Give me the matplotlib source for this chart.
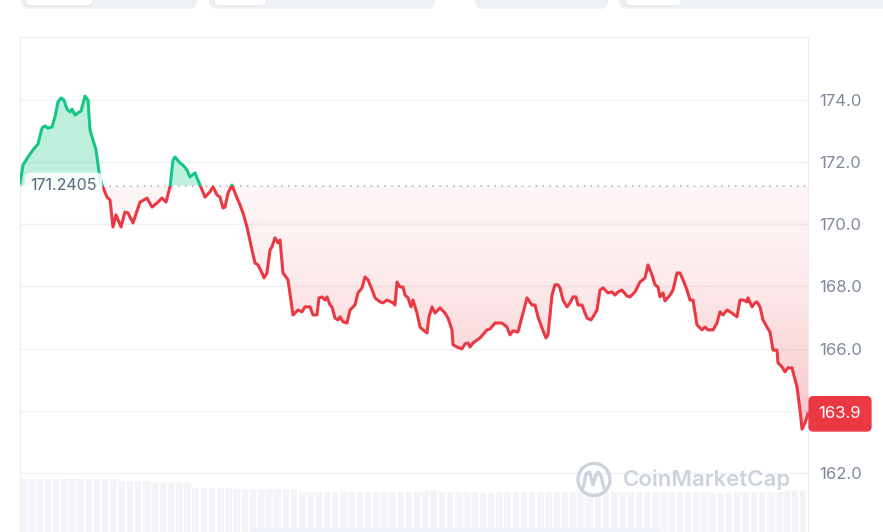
import numpy as np
import matplotlib.pyplot as plt
from matplotlib.patches import Rectangle, FancyBboxPatch, Circle
from matplotlib.path import Path
from matplotlib.colors import to_rgb
import matplotlib.transforms as mtransforms

plt.rcParams['font.family'] = ['Inter', 'DejaVu Sans']

# time index (0..788 over the day) and price
t = [0, 3, 8, 13, 18, 22, 25, 28, 32, 35, 38, 41, 44, 47, 50, 52, 55, 58, 61, 65,
     68, 70, 73, 76, 79, 82, 87, 90, 93, 96, 101, 105, 108, 113, 120, 124, 127, 132, 137, 142,
     146, 150, 153, 155, 160, 163, 167, 170, 175, 180, 185, 190, 193, 197, 200, 203, 205, 208, 212, 215,
     220, 223, 227, 232, 235, 238, 242, 244, 247, 250, 252, 255, 258, 260, 263, 268, 273, 278, 282, 285,
     290, 293, 297, 299, 302, 305, 307, 310, 312, 315, 318, 320, 323, 327, 330, 335, 338, 342, 345, 348,
     353, 355, 360, 363, 367, 373, 375, 377, 380, 383, 385, 388, 391, 393, 397, 400, 403, 407, 409, 412,
     415, 420, 425, 428, 432, 433, 437, 442, 445, 448, 450, 453, 460, 467, 470, 475, 478, 482, 487, 490,
     493, 498, 502, 507, 512, 515, 518, 522, 526, 528, 532, 535, 538, 540, 543, 547, 550, 553, 556, 558,
     562, 565, 567, 571, 573, 577, 580, 583, 588, 592, 595, 598, 602, 607, 610, 615, 620, 625, 628, 632,
     635, 638, 640, 643, 645, 650, 653, 657, 660, 663, 667, 670, 673, 677, 682, 685, 688, 693, 697, 700,
     703, 707, 712, 717, 720, 723, 727, 728, 732, 735, 737, 740, 743, 747, 750, 753, 757, 758, 762, 765,
     768, 772, 773, 777, 780, 782, 785, 788]

price = [171.32, 171.90, 172.16, 172.39, 172.58, 173.09, 173.16, 173.09, 173.13, 173.45,
         173.93, 174.06, 173.99, 173.70, 173.61, 173.70, 173.51, 173.58, 173.64, 174.12,
         173.99, 173.03, 172.71, 172.39, 171.68, 171.26, 170.87, 170.78, 169.91, 170.30,
         169.91, 170.39, 170.36, 170.04, 170.71, 170.78, 170.84, 170.55, 170.68, 170.84,
         170.71, 171.20, 172.06, 172.16, 171.97, 171.90, 171.74, 171.52, 171.65, 171.26,
         170.87, 171.04, 171.20, 170.94, 170.87, 170.52, 170.55, 171.00, 171.26, 171.00,
         170.62, 170.36, 169.91, 169.17, 168.75, 168.69, 168.43, 168.27, 168.43, 169.17,
         169.27, 169.56, 169.40, 169.49, 168.43, 168.21, 167.08, 167.24, 167.18, 167.34,
         167.34, 167.08, 167.08, 167.63, 167.66, 167.56, 167.66, 167.40, 167.34, 166.98,
         166.92, 167.02, 166.86, 166.82, 167.24, 167.40, 167.79, 167.95, 168.30, 168.21,
         167.82, 167.63, 167.50, 167.47, 167.56, 167.47, 167.40, 168.14, 167.98, 167.98,
         167.72, 167.63, 167.34, 167.56, 167.14, 166.69, 166.60, 166.50, 167.02, 167.34,
         167.14, 167.31, 167.14, 166.98, 166.60, 166.12, 166.05, 165.99, 166.15, 166.18,
         166.05, 166.18, 166.34, 166.60, 166.63, 166.82, 166.82, 166.82, 166.69, 166.44,
         166.57, 166.53, 167.02, 167.63, 167.40, 167.40, 167.02, 166.66, 166.34, 166.44,
         167.72, 168.05, 168.05, 167.95, 167.56, 167.34, 167.47, 167.66, 167.66, 167.40,
         167.40, 167.14, 166.98, 166.92, 167.02, 167.24, 167.88, 167.95, 167.79, 167.82,
         167.72, 167.82, 167.88, 167.69, 167.66, 167.82, 168.14, 168.27, 168.69, 168.37,
         168.05, 167.98, 167.66, 167.79, 167.53, 167.72, 167.88, 168.43, 168.43, 168.21,
         167.88, 167.56, 167.56, 166.76, 166.60, 166.69, 166.60, 166.60, 166.82, 167.18,
         167.08, 167.24, 167.14, 167.02, 167.56, 167.56, 167.50, 167.63, 167.34, 167.47,
         167.50, 167.34, 166.92, 166.69, 166.53, 165.95, 165.95, 165.54, 165.41, 165.25,
         165.38, 165.38, 165.25, 164.77, 164.03, 163.41, 163.61, 163.90]

open_price = 171.2405
last_price = 163.9
yticks = [162, 164, 166, 168, 170, 172, 174]

# volume buckets (millions)
volume = [5.3, 5.3, 5.3, 5.3, 5.3, 5.3, 5.4, 5.3, 5.3, 5.3, 5.3, 5.3,
          5.1, 5.1, 5.1, 5.1, 4.9, 4.9, 4.9, 4.9, 4.9,
          4.4, 4.4, 4.4, 4.4, 4.4, 4.3, 4.3, 4.3, 4.3, 4.3, 4.3, 4.3, 4.3,
          4.0, 4.0, 4.0, 4.0, 4.0, 4.1, 4.0, 4.0, 4.0, 4.0, 4.0, 4.0, 4.0, 4.0, 4.0, 4.1, 4.1, 4.0, 4.0, 4.0,
          4.0, 4.0, 3.9, 3.9, 4.0, 4.0, 4.0, 4.0, 4.0, 4.0,
          4.0, 4.0, 4.0, 4.0, 4.0, 4.0, 4.0, 4.0, 4.0, 4.0,
          4.0, 4.0, 4.0, 4.0, 4.0, 4.0, 4.0, 4.0, 4.0, 4.0,
          3.9, 3.9, 3.9, 4.0, 4.0, 4.0, 4.0, 4.0, 4.0, 4.1, 4.2, 4.2]

green = '#16c784'
red = '#ea3943'

tt = np.array(t, dtype=float)
p = np.array(price)

fig = plt.figure(figsize=(8.83, 5.32), dpi=100)
rect = [20 / 883, 0, 788 / 883, 495 / 532]

# volume layer
axv = fig.add_axes(rect)
step = 788 / len(volume)
axv.bar(np.arange(len(volume)) * step, volume, width=step * 0.8, align='edge',
        color='#f3f4f7', lw=0)
axv.set_xlim(0, 788)
axv.set_ylim(0, 49.5)
axv.axis('off')

ax = fig.add_axes(rect)
ax.patch.set_visible(False)

# fills
ax.fill_between(tt, p, open_price, where=p >= open_price, interpolate=True,
                color=green, alpha=0.28, lw=0, zorder=1)
rfill = ax.fill_between(tt, p, open_price, where=p <= open_price, interpolate=True,
                        color='none', lw=0)
rpath = Path.make_compound_path(*rfill.get_paths())
f = np.linspace(0, 1, 256)
img = np.zeros((256, 1, 4))
img[..., :3] = to_rgb(red)
img[:, 0, 3] = 0.05 + 0.26 * f ** 1.5
im = ax.imshow(img, extent=[0, 788, 163.3, open_price], origin='upper',
               aspect='auto', zorder=1)
im.set_clip_path(rpath, transform=ax.transData)

# price line, green above open, red below
lg, = ax.plot(tt, p, color=green, lw=2.2, zorder=3)
lg.set_clip_path(Rectangle((0, open_price), 800, 20, transform=ax.transData))
lr, = ax.plot(tt, p, color=red, lw=2.2, zorder=3)
lr.set_clip_path(Rectangle((0, 150), 800, open_price - 150, transform=ax.transData))

ax.axhline(open_price, color='#a6acbd', lw=1.1, ls=(0, (1, 3.5)), zorder=2)

ax.set_xlim(0, 788)
ax.set_ylim(160.10, 176.02)
ax.set_yticks(yticks)
ax.set_yticklabels([f'{v:.1f}' for v in yticks])
ax.set_xticks([])
ax.yaxis.tick_right()
ax.tick_params(axis='y', length=0, pad=8, labelsize=12, labelcolor='#808a9d')
ax.grid(axis='y', color='#eff1f4', lw=1)
ax.set_axisbelow(True)
for s in ['top', 'left', 'right']:
    ax.spines[s].set_color('#eceef2')
ax.spines['bottom'].set_visible(False)

bt = mtransforms.blended_transform_factory(ax.transAxes, ax.transData)
ax.text(0.013, open_price, '171.2405', transform=bt, ha='left', va='center',
        fontsize=11.5, color='#58667e', zorder=5,
        bbox=dict(boxstyle='round,pad=0.35', fc='white', ec='none', alpha=0.85))
ax.text((840 - 20) / 788, last_price, '163.9', transform=bt, ha='center', va='center',
        fontsize=12, color='white', zorder=6, clip_on=False,
        bbox=dict(boxstyle='round,pad=0.62,rounding_size=0.3', fc=red, ec='none'))

# watermark
wm = '#cdd3dd'
fig.text(623 / 883, 1 - 480 / 532, 'CoinMarketCap', fontsize=16, fontweight='semibold',
         color=wm, ha='left', va='center')
fig.add_artist(Circle((5.94, 0.525), 0.16, fill=False, ec=wm, lw=2.4,
                      transform=fig.dpi_scale_trans))
wave_x = [5.83, 5.86, 5.895, 5.93, 5.955, 5.98, 6.01, 6.04]
wave_y = [0.44, 0.58, 0.60, 0.47, 0.56, 0.60, 0.56, 0.44]
fig.add_artist(plt.Line2D(wave_x, wave_y, color=wm, lw=2.4, transform=fig.dpi_scale_trans,
                          solid_joinstyle='round', solid_capstyle='round'))

# tab buttons cut at the top
tabs = [(0.21, 1.76), (2.09, 2.26), (4.75, 1.33), (6.19, 2.8)]
for x0, w in tabs:
    fig.add_artist(FancyBboxPatch((x0, 5.23), w, 0.3, boxstyle='round,pad=0,rounding_size=0.08',
                                  fc='#eff2f5', ec='none', transform=fig.dpi_scale_trans))
inner = [(0.25, 0.68), (2.14, 0.53), (6.25, 0.57)]
for x0, w in inner:
    fig.add_artist(FancyBboxPatch((x0, 5.26), w, 0.3, boxstyle='round,pad=0,rounding_size=0.06',
                                  fc='white', ec='#e3e6ea', lw=0.8, transform=fig.dpi_scale_trans))

fig.add_artist(FancyBboxPatch((2.5, -0.05), 4.1, 0.085, boxstyle='round,pad=0,rounding_size=0.04',
                              fc='#eef0fb', ec='none', transform=fig.dpi_scale_trans))

fig.savefig('out.png', dpi=100)
